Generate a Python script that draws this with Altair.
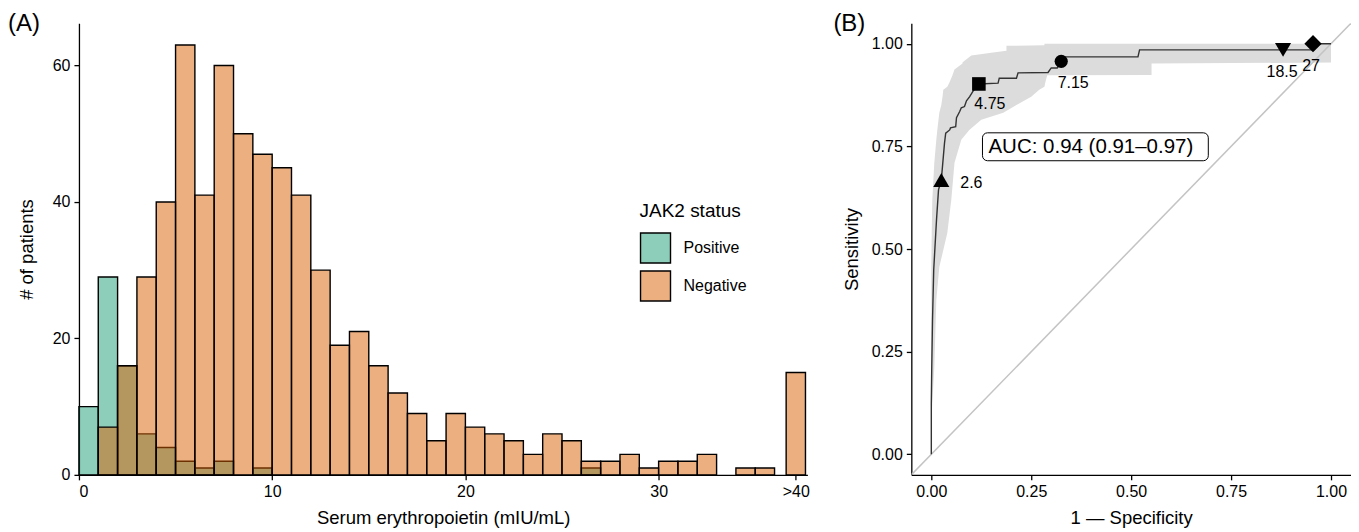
import altair as alt
import pandas as pd

FONT = "Liberation Sans"

# ---------------- Panel A : histogram ----------------
bin_left = list(range(36))
neg_counts = [0, 7, 16, 29, 40, 63, 41, 60, 50, 47, 45, 41, 30, 19, 21, 16, 12, 9,
              5, 9, 7, 6, 5, 3, 6, 5, 2, 2, 3, 1, 2, 2, 3, 0, 1, 1]
pos_counts = [10, 29, 16, 6, 4, 2, 1, 2, 0, 1, 0, 0, 0, 0, 0, 0, 0, 0,
              0, 0, 0, 0, 0, 0, 0, 0, 1, 0, 0, 0, 0, 0, 0, 0, 0, 0]
over40_left = 36.6
over40_right = 37.6
over40_neg = 15
over40_pos = 0
statuses = ["Positive", "Negative"]
hist_x_ticks = [0, 10, 20, 30, 37.1]
hist_y_ticks = [0, 20, 40, 60]

# ---------------- Panel B : ROC ----------------
roc_fpr = [0, 0, 0.001, 0.003, 0.006, 0.013, 0.018, 0.025, 0.033, 0.036,
           0.046, 0.048, 0.061, 0.063, 0.071, 0.075, 0.083, 0.088, 0.096, 0.104,
           0.119, 0.167, 0.170, 0.213, 0.217, 0.292, 0.300, 0.315, 0.325, 0.335,
           0.517, 0.521, 0.955, 0.956, 1.0]
roc_tpr = [0, 0.124, 0.205, 0.327, 0.449, 0.571, 0.644, 0.668, 0.758, 0.782,
           0.790, 0.795, 0.798, 0.820, 0.835, 0.844, 0.847, 0.861, 0.871, 0.884,
           0.902, 0.904, 0.916, 0.916, 0.929, 0.930, 0.941, 0.941, 0.957, 0.968,
           0.968, 0.985, 0.985, 1.0, 1.0]
band_tpr = [1.000, 0.996, 0.995, 0.983, 0.978, 0.971, 0.956, 0.954, 0.952, 0.937,
            0.924, 0.923, 0.905, 0.895, 0.888, 0.871, 0.851, 0.832, 0.815, 0.790,
            0.766, 0.710, 0.620, 0.539, 0.456, 0.376, 0.212, 0.083]
band_lo = [0.283, 0.283, 0.188, 0.188, 0.150, 0.100, 0.080, 0.078, 0.078, 0.058,
           0.053, 0.053, 0.045, 0.040, 0.030, 0.028, 0.025, 0.020, 0.018, 0.015,
           0.0125, 0.0075, 0.0025, 0.001, 0.0, 0.0, 0.0, 0.0]
band_hi = [1.0, 1.0, 1.0, 1.0, 1.0, 1.0, 1.0, 1.0, 0.551, 0.551,
           0.551, 0.290, 0.285, 0.283, 0.270, 0.250, 0.213, 0.180, 0.125, 0.095,
           0.075, 0.058, 0.050, 0.040, 0.020, 0.0125, 0.0075, 0.0]
thr_label = ["2.6", "4.75", "7.15", "18.5", "27"]
thr_fpr = [0.025, 0.119, 0.325, 0.880, 0.955]
thr_tpr = [0.668, 0.902, 0.957, 0.985, 1.0]
auc_text = "AUC: 0.94 (0.91\u20130.97)"
auc_box_x = [0.128, 0.693]
auc_box_y = [0.715, 0.783]
auc_text_pos = [0.143, 0.749]
roc_ticks = [0, 0.25, 0.5, 0.75, 1.0]
diag_ends = [-0.05, 1.05]

# ---------------- build tables ----------------
rows = []
for st, counts, extra in (("Positive", pos_counts, over40_pos), ("Negative", neg_counts, over40_neg)):
    for b, c in zip(bin_left, counts):
        if c > 0:
            rows.append({"status": st, "x0": b, "x1": b + 1, "count": c})
    if extra > 0:
        rows.append({"status": st, "x0": over40_left, "x1": over40_right, "count": extra})
hist_df = pd.DataFrame(rows)

hx = alt.X("x0:Q", scale=alt.Scale(domain=[0, 37.7], nice=False, zero=False),
           axis=alt.Axis(values=hist_x_ticks,
                         labelExpr="datum.value > 35 ? '>40' : datum.label",
                         title="Serum erythropoietin (mIU/mL)", titlePadding=9))
hy = alt.Y("count:Q", scale=alt.Scale(domain=[0, 66.2], nice=False),
           axis=alt.Axis(values=hist_y_ticks, title="# of patients", titlePadding=16))

hist = alt.Chart(hist_df).mark_rect(stroke="black", strokeWidth=1.4, fillOpacity=0.5).encode(
    x=hx, x2="x1:Q", y=hy, y2=alt.datum(0),
    fill=alt.Fill("status:N", scale=alt.Scale(domain=statuses, range=["#1B9E77", "#D95F02"]),
                  legend=None),
)

# invisible twin layer that only supplies the legend (fills as they appear at 50 % alpha)
legend_layer = alt.Chart(hist_df).transform_calculate(grp="datum.status").mark_rect(
    fillOpacity=0
).encode(
    x=hx, x2="x1:Q", y=hy, y2=alt.datum(0),
    fill=alt.Fill("grp:N",
                  scale=alt.Scale(domain=statuses, range=["#8DCEBB", "#ECAF80"]),
                  legend=alt.Legend(title="JAK2 status", orient="none", legendX=561, legendY=179)),
)

tag_a = alt.Chart(pd.DataFrame({"t": ["(A)"]})).mark_text(
    align="left", baseline="middle", fontSize=24, font=FONT, color="black"
).encode(x=alt.value(-71), y=alt.value(1), text="t:N")

left = alt.layer(hist, legend_layer, tag_a).resolve_scale(fill="independent").resolve_legend(
    fill="independent").properties(width=729, height=452)

# ---- right ----
xs = alt.Scale(domain=[-0.05, 1.05], nice=False, zero=False)
ys = alt.Scale(domain=[-0.05, 1.05], nice=False, zero=False)
xax = alt.Axis(values=roc_ticks, format=".2f", title="1 \u2014 Specificity", titlePadding=9)
yax = alt.Axis(values=roc_ticks, format=".2f", title="Sensitivity", titlePadding=10)

band_df = pd.DataFrame({"tpr": band_tpr, "lo": band_lo, "hi": band_hi})
band = alt.Chart(band_df).mark_area(orient="horizontal", color="#DCDCDC").encode(
    y=alt.Y("tpr:Q", scale=ys, axis=yax),
    x=alt.X("lo:Q", scale=xs, axis=xax),
    x2="hi:Q",
)

diag_df = pd.DataFrame({"x": diag_ends, "y": diag_ends})
diag = alt.Chart(diag_df).mark_line(color="#C4C4C4", strokeWidth=1.5, clip=True).encode(
    x=alt.X("x:Q", scale=xs), y=alt.Y("y:Q", scale=ys))

roc_df = pd.DataFrame({"fpr": roc_fpr, "tpr": roc_tpr, "i": list(range(len(roc_fpr)))})
roc = alt.Chart(roc_df).mark_line(color="#333333", strokeWidth=1.4).encode(
    x=alt.X("fpr:Q", scale=xs), y=alt.Y("tpr:Q", scale=ys), order="i:Q")

thr_df = pd.DataFrame({"label": thr_label, "fpr": thr_fpr, "tpr": thr_tpr})
marker_style = {
    "2.6": ("triangle-up", 260, "left", 19, 3),
    "4.75": ("square", 185, "center", 11, 20),
    "7.15": ("circle", 175, "center", 12, 22),
    "18.5": ("triangle-down", 260, "center", -1, 22),
    "27": ("diamond", 300, "center", -2, 22),
}
thr_layers = []
for lab in thr_label:
    shape, size, align, dx, dy = marker_style[lab]
    base = alt.Chart(thr_df).transform_filter(alt.datum.label == lab)
    thr_layers.append(base.mark_point(shape=shape, size=size, filled=True, color="black",
                                      opacity=1, strokeWidth=0).encode(
        x=alt.X("fpr:Q", scale=xs), y=alt.Y("tpr:Q", scale=ys)))
    thr_layers.append(base.mark_text(align=align, baseline="middle", dx=dx, dy=dy,
                                     fontSize=16, font=FONT, color="black").encode(
        x=alt.X("fpr:Q", scale=xs), y=alt.Y("tpr:Q", scale=ys), text="label:N"))

box_df = pd.DataFrame({"x0": [auc_box_x[0]], "x1": [auc_box_x[1]],
                       "y0": [auc_box_y[0]], "y1": [auc_box_y[1]],
                       "tx": [auc_text_pos[0]], "ty": [auc_text_pos[1]], "t": [auc_text]})
box = alt.Chart(box_df).mark_rect(fill="white", stroke="black", strokeWidth=1, cornerRadius=5).encode(
    x=alt.X("x0:Q", scale=xs), x2="x1:Q", y=alt.Y("y0:Q", scale=ys), y2="y1:Q")
box_text = alt.Chart(box_df).mark_text(align="left", baseline="middle", fontSize=20.5,
                                       font=FONT, color="black").encode(
    x=alt.X("tx:Q", scale=xs), y=alt.Y("ty:Q", scale=ys), text="t:N")

tag_b = alt.Chart(pd.DataFrame({"t": ["(B)"]})).mark_text(
    align="left", baseline="middle", fontSize=24, font=FONT, color="black"
).encode(x=alt.value(-78), y=alt.value(1), text="t:N")

right = alt.layer(band, diag, roc, *thr_layers, box, box_text, tag_b).properties(width=440, height=452)

chart = alt.hconcat(left, right, spacing=24).properties(
    padding={"left": 0, "top": 4, "right": 0, "bottom": 0}
).configure(font=FONT).configure_view(stroke=None).configure_axis(
    domainColor="black", domainWidth=1.3, tickColor="black", tickWidth=1.3, tickSize=5,
    labelFontSize=16, labelColor="black", labelPadding=4, labelFont=FONT,
    titleFontSize=18.5, titleFontWeight="normal", titleColor="black", titleFont=FONT,
    grid=False,
).configure_legend(
    titleFontSize=19, titleFontWeight="normal", titleColor="black", titleFont=FONT,
    labelFontSize=16, labelColor="black", labelFont=FONT,
    symbolType="square", symbolSize=900, symbolStrokeColor="black", symbolStrokeWidth=1.4,
    labelOffset=12, rowPadding=2, titlePadding=11, padding=0,
)

chart.save("out.html", embed_options={"renderer": "svg", "actions": False})
